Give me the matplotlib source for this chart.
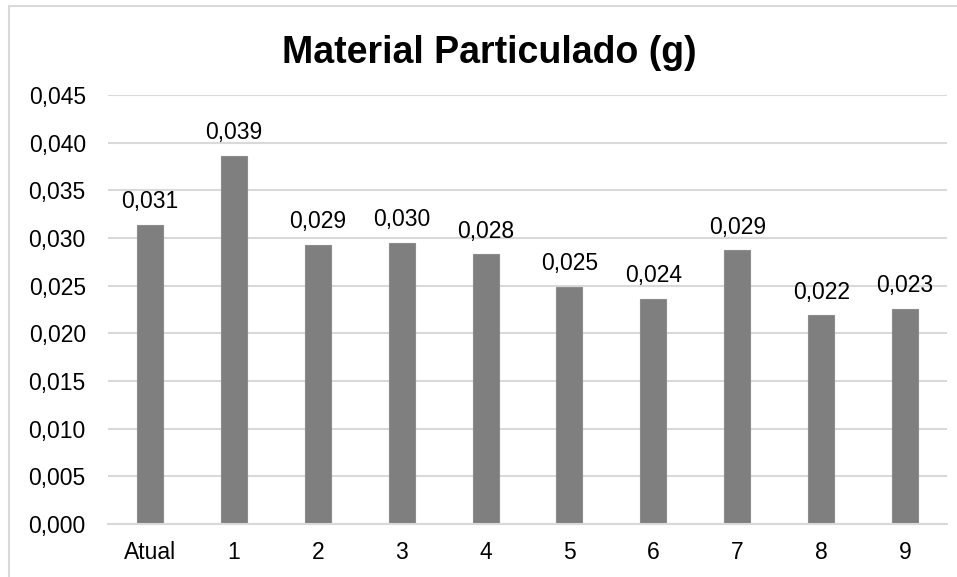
import matplotlib
matplotlib.use("Agg")
import matplotlib.pyplot as plt
from matplotlib.patches import Rectangle
from matplotlib.ticker import FixedLocator, FuncFormatter

categories = ["Atual", "1", "2", "3", "4", "5", "6", "7", "8", "9"]
values = [0.0314, 0.0386, 0.0293, 0.0295, 0.0283, 0.0249, 0.0236, 0.0287, 0.0219, 0.0226]
labels = ["0,031", "0,039", "0,029", "0,030", "0,028", "0,025", "0,024", "0,029", "0,022", "0,023"]
yticks = [0.000, 0.005, 0.010, 0.015, 0.020, 0.025, 0.030, 0.035, 0.040, 0.045]
title = "Material Particulado (g)"

plt.rcParams['font.family'] = ['Liberation Sans', 'DejaVu Sans']

W, H = 957, 577
fig = plt.figure(figsize=(W / 100, H / 100), dpi=100)

# chart border (cut by the screenshot on the right and bottom)
fig.patches.append(Rectangle((9 / W, -0.1), 1.2, 1.1 - 6 / H, transform=fig.transFigure,
                             fill=False, edgecolor="#d9d9d9", linewidth=1.5))

left, right = 108 / W, 947 / W
bottom, top = 1 - 524 / H, 1 - 95 / H
ax = fig.add_axes([left, bottom, right - left, top - bottom])

x = list(range(len(categories)))
ax.bar(x, values, width=0.31, color="#7f7f7f", edgecolor="#8c8c8c", linewidth=0.8, zorder=3)

ax.set_xlim(-0.5, len(categories) - 0.5)
ax.set_ylim(0, 0.045)
ax.yaxis.set_major_locator(FixedLocator(yticks))
ax.yaxis.set_major_formatter(FuncFormatter(lambda v, p: f"{v:.3f}".replace(".", ",")))
ax.set_xticks(x)
ax.set_xticklabels(categories)
ax.tick_params(axis="both", length=0, labelsize=16.5, colors="black")
ax.tick_params(axis="y", pad=16)
ax.tick_params(axis="x", pad=12)

ax.grid(axis="y", color="#d9d9d9", linewidth=1.5, zorder=0)
for s in ["top", "right", "left"]:
    ax.spines[s].set_visible(False)
ax.spines["bottom"].set_color("#d9d9d9")
ax.spines["bottom"].set_linewidth(1.5)
ax.spines["bottom"].set_zorder(4)

for xi, v, lab in zip(x, values, labels):
    ax.annotate(lab, (xi, v), xytext=(0, 12), textcoords="offset points",
                ha="center", va="baseline", fontsize=16.5, color="black")

fig.text(489 / W, 1 - 63 / H, title, ha="center", va="baseline",
         fontsize=27, fontweight="bold", color="black")

fig.savefig("out.png", dpi=100, facecolor="white")
